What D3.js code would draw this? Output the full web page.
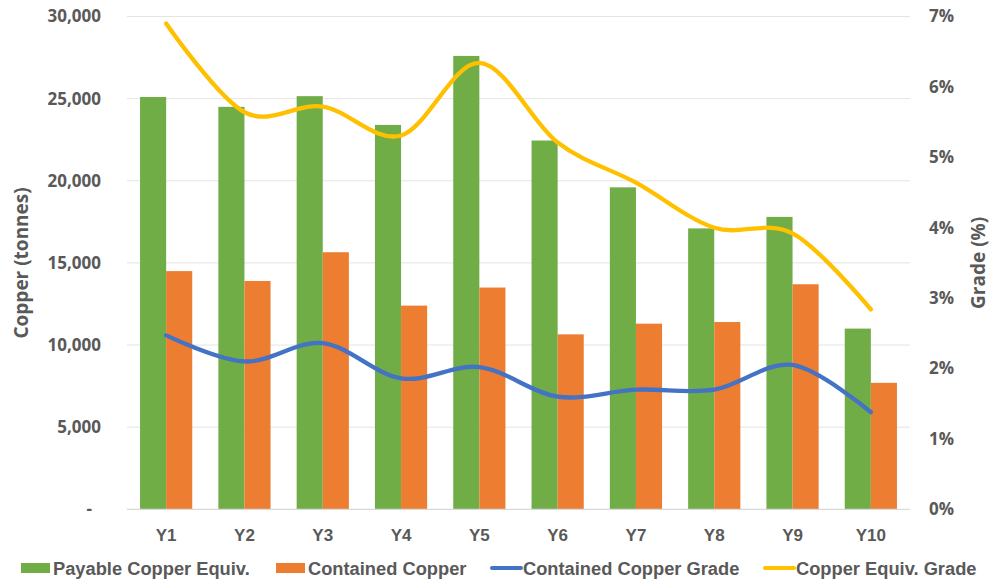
<!DOCTYPE html>
<html>
<head>
<meta charset="utf-8">
<script src="https://cdn.jsdelivr.net/npm/d3@7"></script>
<style>
  body { margin: 0; background: #fff; }
  svg { display: block; }
  .tick-lbl { font-family: "Open Sans", sans-serif; font-weight: 700; font-size: 17px; fill: #595959; }
  .cat-lbl { font-family: "Liberation Sans", Arial, sans-serif; font-weight: 700; font-size: 17px; fill: #595959; }
  .ax-title { font-family: "Open Sans", sans-serif; font-weight: 700; font-size: 19px; fill: #595959; }
  .leg-lbl { font-family: "Liberation Sans", Arial, sans-serif; font-weight: 700; font-size: 18.3px; fill: #595959; }
</style>
</head>
<body>
<div id="chart"></div>
<script>
// data
var years = ["Y1", "Y2", "Y3", "Y4", "Y5", "Y6", "Y7", "Y8", "Y9", "Y10"];
var payableCuEq = [25100, 24500, 25150, 23400, 27600, 22450, 19600, 17100, 17800, 11000];
var containedCu = [14500, 13900, 15650, 12400, 13500, 10650, 11300, 11400, 13700, 7700];
var containedGrade = [0.0247, 0.0210, 0.0236, 0.0186, 0.0202, 0.0160, 0.0170, 0.0170, 0.0205, 0.0138];
var cuEqGrade = [0.0690, 0.0564, 0.0572, 0.0531, 0.0634, 0.0521, 0.0464, 0.0400, 0.0392, 0.0284];
var leftTicks = [0, 5000, 10000, 15000, 20000, 25000, 30000];
var rightTicks = [0, 0.01, 0.02, 0.03, 0.04, 0.05, 0.06, 0.07];

var barSeries = [
    { name: "Payable Copper Equiv.", values: payableCuEq, color: "#70AD47" },
    { name: "Contained Copper", values: containedCu, color: "#ED7D31" }
];
var lineSeries = [
    { name: "Contained Copper Grade", values: containedGrade, color: "#4472C4" },
    { name: "Copper Equiv. Grade", values: cuEqGrade, color: "#FFC000" }
];

var W = 991, H = 582;
var plotL = 127, plotR = 910, plotT = 16.5, plotB = 509.3;

var svg = d3.select("#chart").append("svg")
    .attr("width", W)
    .attr("height", H);

var x = d3.scaleBand().domain(years).range([plotL, plotR]).padding(0);
var xIn = d3.scaleBand().domain([0, 1]).range([0, x.bandwidth()]).paddingInner(0).paddingOuter(0.5);
var yL = d3.scaleLinear().domain([0, 30000]).range([plotB, plotT]);
var yR = d3.scaleLinear().domain([0, 0.07]).range([plotB, plotT]);

//グリッド線
svg.append("g")
    .selectAll("line")
    .data(leftTicks.slice(1))
    .enter()
    .append("line")
    .attr("x1", plotL)
    .attr("x2", plotR)
    .attr("y1", function(d){ return yL(d); })
    .attr("y2", function(d){ return yL(d); })
    .attr("stroke", "#E4E4E4")
    .attr("stroke-width", 1);

//左軸
var axL = svg.append("g")
    .attr("transform", "translate(" + (plotL - 26) + ",0)")
    .call(d3.axisLeft(yL).tickValues(leftTicks).tickSize(0).tickPadding(0)
        .tickFormat(function(d){ return d === 0 ? "-" : d3.format(",")(d); }));
axL.select(".domain").remove();
axL.selectAll("text").attr("class", "tick-lbl").attr("fill", null)
    .attr("dx", function(d){ return d === 0 ? -9 : 0; });

//右軸
var axR = svg.append("g")
    .attr("transform", "translate(" + (plotR + 19) + ",0)")
    .call(d3.axisRight(yR).tickValues(rightTicks).tickSize(0).tickPadding(0)
        .tickFormat(d3.format(".0%")));
axR.select(".domain").remove();
axR.selectAll("text").attr("class", "tick-lbl").attr("fill", null);

//棒グラフ
barSeries.forEach(function(s, si){
    svg.append("g")
        .selectAll("rect")
        .data(s.values)
        .enter()
        .append("rect")
        .attr("x", function(d, i){ return x(years[i]) + xIn(si); })
        .attr("y", function(d){ return yL(d); })
        .attr("width", xIn.bandwidth())
        .attr("height", function(d){ return yL(0) - yL(d); })
        .attr("fill", s.color);
});

//基準線
svg.append("line")
    .attr("x1", plotL)
    .attr("x2", plotR)
    .attr("y1", yL(0))
    .attr("y2", yL(0))
    .attr("stroke", "#D9D9D9")
    .attr("stroke-width", 1.2);

//折れ線 (smooth)
var line = d3.line()
    .x(function(d, i){ return x(years[i]) + x.bandwidth() / 2; })
    .y(function(d){ return yR(d); })
    .curve(d3.curveCatmullRom.alpha(0));

lineSeries.forEach(function(s){
    svg.append("path")
        .datum(s.values)
        .attr("d", line)
        .attr("fill", "none")
        .attr("stroke", s.color)
        .attr("stroke-width", 4.3)
        .attr("stroke-linecap", "round")
        .attr("stroke-linejoin", "round");
});

//カテゴリ
var axX = svg.append("g")
    .attr("transform", "translate(0," + plotB + ")")
    .call(d3.axisBottom(x).tickSize(0).tickPadding(20));
axX.select(".domain").remove();
axX.selectAll("text").attr("class", "cat-lbl").attr("fill", null).attr("dy", "0.71em");

//軸タイトル
svg.append("text")
    .attr("class", "ax-title")
    .attr("transform", "translate(28," + ((plotT + plotB) / 2) + ") rotate(-90)")
    .attr("text-anchor", "middle")
    .text("Copper (tonnes)");

svg.append("text")
    .attr("class", "ax-title")
    .attr("transform", "translate(985," + ((plotT + plotB) / 2) + ") rotate(-90)")
    .attr("text-anchor", "middle")
    .text("Grade (%)");

//凡例
var legY = 568;
var legX = [21, 276, 490, 763];
var legItems = barSeries.map(function(s){ return { name: s.name, color: s.color, kind: "bar" }; })
    .concat(lineSeries.map(function(s){ return { name: s.name, color: s.color, kind: "line" }; }));

var $leg = svg.append("g")
    .selectAll("g")
    .data(legItems)
    .enter()
    .append("g")
    .attr("transform", function(d, i){ return "translate(" + legX[i] + "," + legY + ")"; });

$leg.each(function(d){
    var g = d3.select(this);
    if(d.kind === "bar"){
        g.append("rect").attr("x", 0).attr("y", -5).attr("width", 29).attr("height", 10).attr("fill", d.color);
    }else{
        g.append("line").attr("x1", 2).attr("x2", 31).attr("y1", 0).attr("y2", 0)
            .attr("stroke", d.color).attr("stroke-width", 4).attr("stroke-linecap", "round");
    }
    g.append("text")
        .attr("class", "leg-lbl")
        .attr("x", d.kind === "bar" ? 32 : 33)
        .attr("y", 0)
        .attr("dy", "0.36em")
        .text(d.name);
});
</script>
</body>
</html>
